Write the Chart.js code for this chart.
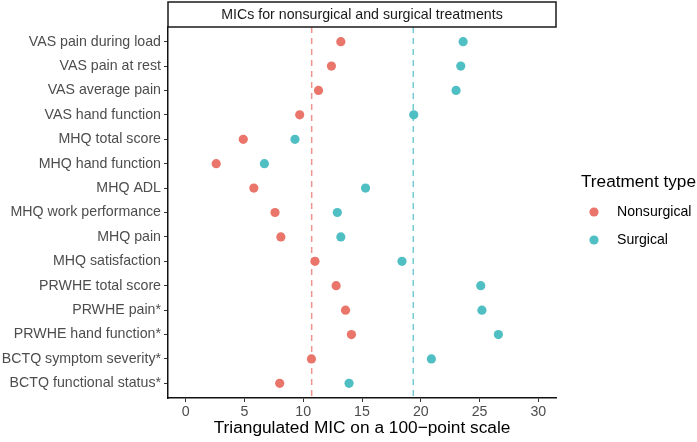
<!DOCTYPE html>
<html>
<head>
<meta charset="utf-8">
<script src="https://cdn.jsdelivr.net/npm/chart.js@4/dist/chart.umd.min.js"></script>
<style>
  html, body { margin: 0; padding: 0; background: #fff; }
  canvas { display: block; }
</style>
</head>
<body>
<canvas id="mic" width="697" height="442"></canvas>
<script>
const labels = [
    'VAS pain during load', 'VAS pain at rest', 'VAS average pain', 'VAS hand function',
    'MHQ total score', 'MHQ hand function', 'MHQ ADL', 'MHQ work performance',
    'MHQ pain', 'MHQ satisfaction', 'PRWHE total score', 'PRWHE pain*',
    'PRWHE hand function*', 'BCTQ symptom severity*', 'BCTQ functional status*'
];
const nonsurgical = [13.2, 12.4, 11.3, 9.7, 4.9, 2.6, 5.8, 7.6, 8.1, 11.0, 12.8, 13.6, 14.1, 10.7, 8.0];
const surgical = [23.6, 23.4, 23.0, 19.4, 9.3, 6.7, 15.3, 12.9, 13.2, 18.4, 25.1, 25.2, 26.6, 20.9, 13.9];
const micNonsurgical = 10.72;
const micSurgical = 19.36;
const xTicks = [0, 5, 10, 15, 20, 25, 30];

const red = '#E9756B';
const teal = '#4FBFC4';
const fontFamily = "'Liberation Sans', Arial, Helvetica, sans-serif";

const stripPlugin = {
    id: 'strip',
    afterDraw(chart) {
        const ctx = chart.ctx;
        const a = chart.chartArea;
        ctx.save();
        ctx.strokeStyle = '#1a1a1a';
        ctx.lineWidth = 1.5;
        ctx.strokeRect(a.left, 2, a.right - a.left, a.top - 2);
        ctx.fillStyle = '#1a1a1a';
        ctx.font = '14.2px ' + fontFamily;
        ctx.textAlign = 'center';
        ctx.textBaseline = 'middle';
        ctx.fillText('MICs for nonsurgical and surgical treatments', (a.left + a.right) / 2, 15);
        ctx.restore();
    }
};

const legendPlugin = {
    id: 'sideLegend',
    afterDraw(chart) {
        const ctx = chart.ctx;
        ctx.save();
        ctx.fillStyle = '#000';
        ctx.textBaseline = 'middle';
        ctx.font = '17.2px ' + fontFamily;
        ctx.fillText('Treatment type', 581, 182);
        const items = [['Nonsurgical', red, 212], ['Surgical', teal, 240]];
        ctx.font = '14.1px ' + fontFamily;
        items.forEach(function (it) {
            ctx.fillStyle = it[1];
            ctx.beginPath();
            ctx.arc(594, it[2], 4.6, 0, Math.PI * 2);
            ctx.fill();
            ctx.fillStyle = '#000';
            ctx.fillText(it[0], 617, it[2]);
        });
        ctx.restore();
    }
};

new Chart('mic', {
    type: 'scatter',
    data: {
        datasets: [
            {
                label: 'Nonsurgical',
                data: nonsurgical.map((v, i) => ({ x: v, y: i })),
                backgroundColor: red,
                borderWidth: 0,
                pointRadius: 4.6,
                order: 1
            },
            {
                label: 'Surgical',
                data: surgical.map((v, i) => ({ x: v, y: i })),
                backgroundColor: teal,
                borderWidth: 0,
                pointRadius: 4.6,
                order: 1
            },
            {
                type: 'line',
                label: 'MIC nonsurgical',
                data: [{ x: micNonsurgical, y: -0.6 }, { x: micNonsurgical, y: labels.length - 0.4 }],
                borderColor: 'rgba(236, 120, 112, 0.8)',
                borderWidth: 1.5,
                borderDash: [6, 5],
                pointRadius: 0,
                order: 2
            },
            {
                type: 'line',
                label: 'MIC surgical',
                data: [{ x: micSurgical, y: -0.6 }, { x: micSurgical, y: labels.length - 0.4 }],
                borderColor: 'rgba(79, 191, 196, 0.8)',
                borderWidth: 1.5,
                borderDash: [6, 5],
                pointRadius: 0,
                order: 2
            }
        ]
    },
    options: {
        responsive: false,
        animation: false,
        devicePixelRatio: 1,
        layout: { padding: { top: 27, right: 141, left: 0, bottom: 0 } },
        plugins: {
            legend: { display: false },
            tooltip: { enabled: false }
        },
        scales: {
            x: {
                type: 'linear',
                min: -1.5,
                max: 31.5,
                afterBuildTicks: s => { s.ticks = xTicks.map(v => ({ value: v })); },
                afterFit: s => { s.height = 44; },
                grid: { drawOnChartArea: false, drawTicks: true, tickLength: 4, tickColor: '#333' },
                border: { display: true, color: '#111', width: 1.5 },
                ticks: { color: '#4D4D4D', font: { family: fontFamily, size: 14.2 }, padding: 2, maxRotation: 0 },
                title: {
                    display: true,
                    text: 'Triangulated MIC on a 100\u2212point scale',
                    color: '#000',
                    font: { family: fontFamily, size: 17.3 },
                    padding: { top: 0, bottom: 3 }
                }
            },
            y: {
                type: 'linear',
                reverse: true,
                min: -0.6,
                max: labels.length - 0.4,
                afterBuildTicks: s => { s.ticks = labels.map((l, i) => ({ value: i })); },
                afterFit: s => { s.width = 168; },
                grid: { drawOnChartArea: false, drawTicks: true, tickLength: 4, tickColor: '#333' },
                border: { display: true, color: '#111', width: 1.5 },
                ticks: {
                    color: '#4D4D4D',
                    font: { family: fontFamily, size: 14.2 },
                    padding: 3,
                    autoSkip: false,
                    callback: v => labels[v]
                }
            }
        }
    },
    plugins: [stripPlugin, legendPlugin]
});
</script>
</body>
</html>
